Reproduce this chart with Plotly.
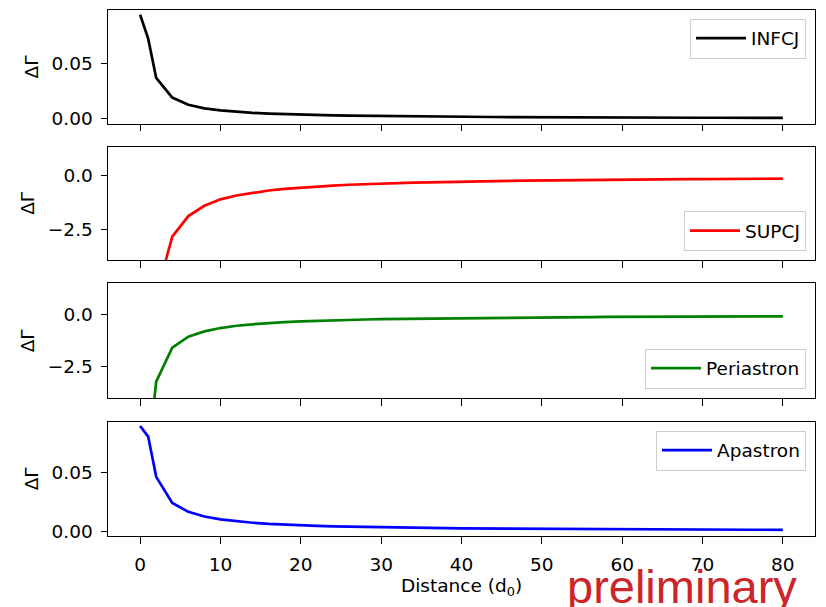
import plotly.graph_objects as go

# ---------------- data ----------------
distance = [0, 1, 2] + list(range(4, 81, 2))

infcj = [0.094, 0.0725, 0.037, 0.0193, 0.0128, 0.0096, 0.0077, 0.0064, 0.0055, 0.0048,
         0.0043, 0.0039, 0.0035, 0.0032, 0.0030, 0.0028, 0.0026, 0.0024, 0.0023, 0.0021,
         0.0020, 0.0019, 0.0018, 0.0018, 0.0017, 0.0016, 0.0015, 0.0015, 0.0014, 0.0014,
         0.0013, 0.0013, 0.0012, 0.0012, 0.0012, 0.0011, 0.0011, 0.0011, 0.0010, 0.0010,
         0.0010, 0.00096]

supcj = [-16.0, -11.0, -5.6, -2.84, -1.88, -1.40, -1.10, -0.92, -0.79, -0.69,
         -0.61, -0.55, -0.50, -0.46, -0.42, -0.39, -0.37, -0.34, -0.32, -0.31,
         -0.29, -0.275, -0.26, -0.25, -0.24, -0.23, -0.22, -0.21, -0.20, -0.196,
         -0.19, -0.183, -0.177, -0.172, -0.167, -0.162, -0.157, -0.153, -0.149, -0.145,
         -0.141, -0.137]

periastron = [-10.0, -6.8, -3.2, -1.58, -1.05, -0.80, -0.64, -0.53, -0.46, -0.40,
              -0.36, -0.32, -0.29, -0.27, -0.25, -0.23, -0.21, -0.20, -0.19, -0.18,
              -0.17, -0.16, -0.152, -0.145, -0.139, -0.133, -0.128, -0.123, -0.119, -0.114,
              -0.110, -0.107, -0.103, -0.100, -0.097, -0.094, -0.091, -0.089, -0.086, -0.084,
              -0.082, -0.080]

apastron = [0.089, 0.080, 0.046, 0.024, 0.0164, 0.0125, 0.0101, 0.0084, 0.0072, 0.0063,
            0.0056, 0.0050, 0.0046, 0.0042, 0.0039, 0.0036, 0.0034, 0.0031, 0.0030, 0.0028,
            0.0026, 0.0025, 0.0024, 0.0023, 0.0022, 0.0021, 0.0020, 0.0019, 0.0019, 0.0018,
            0.0017, 0.0017, 0.0016, 0.0016, 0.0015, 0.0015, 0.0014, 0.0014, 0.0014, 0.0013,
            0.0013, 0.0012]

series_names = ["INFCJ", "SUPCJ", "Periastron", "Apastron"]
series_values = [infcj, supcj, periastron, apastron]
series_colors = ["#000000", "#ff0000", "#008000", "#0000ff"]

x_ticks = [0, 10, 20, 30, 40, 50, 60, 70, 80]
y_title = "ΔΓ"
x_title = "Distance (d<sub>0</sub>)"
watermark = "preliminary"

# ---------------- layout ----------------
FONT = "DejaVu Sans"
FS = 18.5
W, H = 826, 607
ML, MR, MT, MB = 108, 11, 10, 71

domains = [[0.7833, 1.0], [0.5247, 0.7401], [0.2618, 0.4804], [0.0, 0.2173]]
yranges = [[-0.0045, 0.0983], [-3.93, 1.353], [-4.0, 1.50], [-0.0040, 0.0926]]
ydticks = [0.05, 2.5, 2.5, 0.05]
yformats = [".2f", ".1f", ".1f", ".2f"]
legend_pos = [(0.9873, 0.9838, "top"), (0.9873, 0.5418, "bottom"),
              (0.9873, 0.2804, "bottom"), (0.9873, 0.2002, "top")]

fig = go.Figure()
axis_common = dict(showline=True, linecolor="black", linewidth=1.4, mirror=True,
                   ticks="outside", ticklen=6.3, tickwidth=1.4, tickcolor="black",
                   showgrid=False, zeroline=False,
                   tickfont=dict(family=FONT, size=FS, color="black"))

for i in range(4):
    n = i + 1
    xa = "x" if n == 1 else f"x{n}"
    ya = "y" if n == 1 else f"y{n}"
    lg = "legend" if n == 1 else f"legend{n}"
    fig.add_trace(go.Scatter(x=distance, y=series_values[i], mode="lines",
                             name=series_names[i],
                             line=dict(color=series_colors[i], width=2.7),
                             xaxis=xa, yaxis=ya, legend=lg, showlegend=True))
    xkey = "xaxis" if n == 1 else f"xaxis{n}"
    ykey = "yaxis" if n == 1 else f"yaxis{n}"
    fig.layout[xkey] = dict(axis_common, domain=[0, 1], anchor=ya, range=[-4, 84],
                            tickvals=x_ticks, showticklabels=(n == 4),
                            matches=None if n == 4 else "x4",
                            ticklabelstandoff=5)
    fig.layout[ykey] = dict(axis_common, domain=domains[i], anchor=xa, range=yranges[i],
                            dtick=ydticks[i], tick0=0, tickformat=yformats[i],
                            ticklabelstandoff=4,
                            title=dict(text=y_title, standoff=8,
                                       font=dict(family=FONT, size=FS, color="black")))
    lx, ly, yan = legend_pos[i]
    fig.layout[lg] = dict(x=lx, y=ly, xanchor="right", yanchor=yan,
                          bgcolor="rgba(255,255,255,0.8)", bordercolor="#cccccc",
                          borderwidth=1, font=dict(family=FONT, size=FS, color="black"),
                          itemwidth=50)

fig.layout["xaxis4"]["title"] = dict(text=x_title, standoff=3,
                                     font=dict(family=FONT, size=FS, color="black"))

fig.add_annotation(text=watermark, xref="paper", yref="paper",
                   x=(799 - ML) / (W - ML - MR), y=(H - MB - 615) / (H - MT - MB),
                   xanchor="right", yanchor="bottom", showarrow=False,
                   font=dict(family="Liberation Sans", size=47, color="#cc2529"))

fig.update_layout(width=W, height=H, margin=dict(l=ML, r=MR, t=MT, b=MB),
                  plot_bgcolor="white", paper_bgcolor="white",
                  font=dict(family=FONT, size=FS, color="black"))

fig.write_html("out.html")
